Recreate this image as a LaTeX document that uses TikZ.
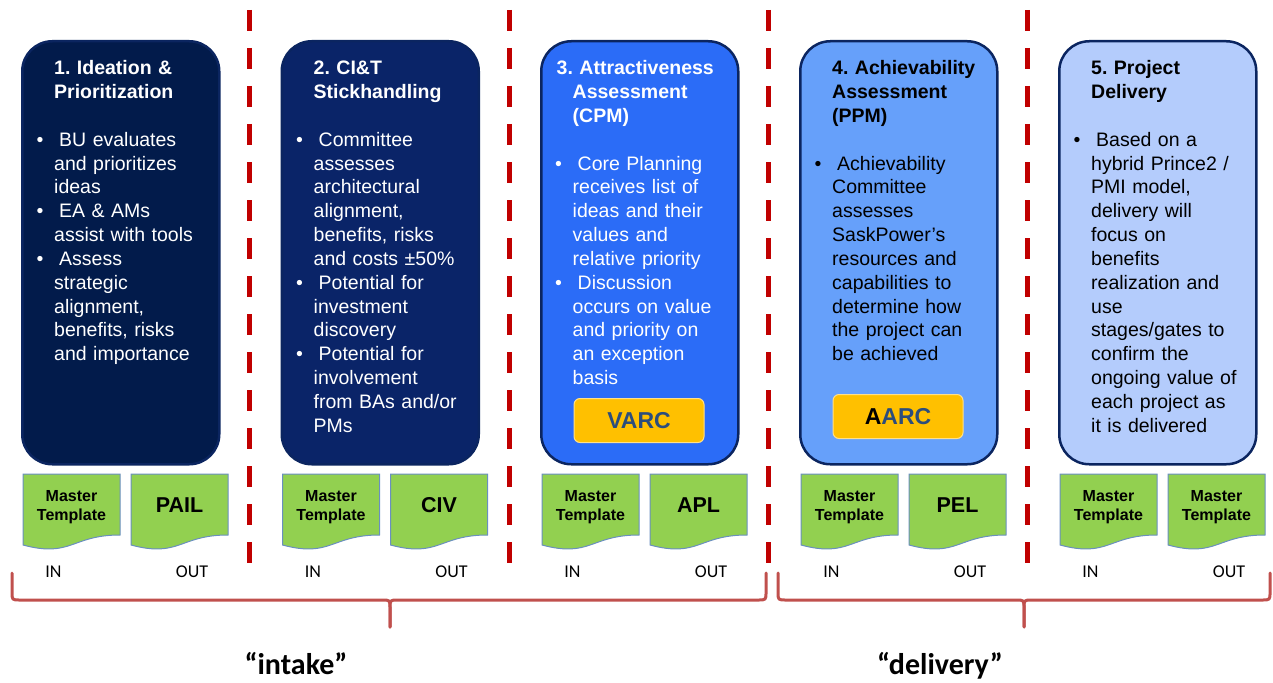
\documentclass[tikz,border=0pt]{standalone}
\usepackage{fontspec}
\setmainfont{Liberation Sans}
\newfontfamily\calibfont{Carlito}
\frenchspacing

\definecolor{stageA}{HTML}{021B4B}
\definecolor{stageB}{HTML}{0A2468}
\definecolor{stageC}{HTML}{2B6CF7}
\definecolor{stageD}{HTML}{66A0FA}
\definecolor{stageE}{HTML}{B4CCFC}
\definecolor{stageline}{HTML}{0B2560}
\definecolor{docgreen}{HTML}{92D050}
\definecolor{docline}{HTML}{6A8FC0}
\definecolor{sepred}{HTML}{C00000}
\definecolor{bracered}{HTML}{C0504D}
\definecolor{tagfill}{HTML}{FFC000}
\definecolor{tagline}{HTML}{FFE08A}
\definecolor{tagtext}{HTML}{2C4D7C}

% bullet hanging to the left of the text column
\newcommand\bul{\makebox[0pt][r]{\textbullet\hspace{10.7pt}}\hspace{5pt}}

\begin{document}
\begin{tikzpicture}[x=1pt,y=-1pt,
  stagebox/.style={draw=stageline, line width=2.5pt, rounded corners=30pt,
    anchor=north west, minimum width=197pt, minimum height=423pt, inner sep=0pt},
  stagetext/.style={anchor=base west, inner sep=0pt, text width=190pt, align=left,
    font=\fontsize{19.5}{23.8}\selectfont},
  docshape/.style={fill=docgreen, draw=docline, line width=1pt},
  doctext/.style={anchor=base, inner sep=0pt, text width=95pt, align=center,
    font=\bfseries\fontsize{16}{19.5}\selectfont},
  outtext/.style={anchor=base, inner sep=0pt, font=\bfseries\fontsize{21.5}{24}\selectfont},
  iolabel/.style={anchor=base, inner sep=0pt, font=\calibfont\fontsize{18}{20}\selectfont},
  tagbox/.style={fill=tagfill, draw=tagline, line width=1pt, rounded corners=6pt,
    minimum width=130pt, minimum height=44pt, inner sep=0pt,
    text=tagtext, font=\bfseries\fontsize{23}{26}\selectfont},
  sepline/.style={draw=sepred, line width=5pt, dash pattern=on 21pt off 17pt},
  brace/.style={draw=bracered, line width=3pt, line cap=round, line join=round},
  phase/.style={anchor=base, inner sep=0pt, font=\calibfont\bfseries\fontsize{30}{34}\selectfont}
]
\useasboundingbox (0,0) rectangle (1273,682);

% phase separators
\foreach \x in {249.5,509,768,1027.5}
  \draw[sepline] (\x,10) -- (\x,563);

% stage boxes
\node[stagebox, fill=stageA] (s1) at (21,40) {};
\node[stagebox, fill=stageB] (s2) at (280.5,40) {};
\node[stagebox, fill=stageC] (s3) at (540,40) {};
\node[stagebox, fill=stageD] (s4) at (799,40) {};
\node[stagebox, fill=stageE] (s5) at (1058,40) {};

% stage texts
\node[stagetext, text=white] (t1) at (54,75) {%
\textbf{1. Ideation \&}\\
\textbf{Prioritization}\\[23.8pt]
\bul BU evaluates\\
and prioritizes\\
ideas\\
\bul EA \& AMs\\
assist with tools\\
\bul Assess\\
strategic\\
alignment,\\
benefits, risks\\
and importance};

\node[stagetext, text=white] (t2) at (313.5,75) {%
\textbf{2. CI\&T}\\
\textbf{Stickhandling}\\[23.8pt]
\bul Committee\\
assesses\\
architectural\\
alignment,\\
benefits, risks\\
and costs ±50\%\\
\bul Potential for\\
investment\\
discovery\\
\bul Potential for\\
involvement\\
from BAs and/or\\
PMs};

\node[stagetext, text=white] (t3) at (572.5,75) {%
\hspace*{-16pt}\textbf{3. Attractiveness}\\
\textbf{Assessment}\\
\textbf{(CPM)}\\[23.8pt]
\bul Core Planning\\
receives list of\\
ideas and their\\
values and\\
relative priority\\
\bul Discussion\\
occurs on value\\
and priority on\\
an exception\\
basis};

\node[stagetext, text=black] (t4) at (832,75) {%
\textbf{4. Achievability}\\
\textbf{Assessment}\\
\textbf{(PPM)}\\[23.8pt]
\bul Achievability\\
Committee\\
assesses\\
SaskPower’s\\
resources and\\
capabilities to\\
determine how\\
the project can\\
be achieved};

\node[stagetext, text=black] (t5) at (1091,75) {%
\textbf{5. Project}\\
\textbf{Delivery}\\[23.8pt]
\bul Based on a\\
hybrid Prince2 /\\
PMI model,\\
delivery will\\
focus on\\
benefits\\
realization and\\
use\\
stages/gates to\\
confirm the\\
ongoing value of\\
each project as\\
it is delivered};

% review committees
\node[tagbox] (varc) at (639,420.5) {VARC};
\node[tagbox] (aarc) at (898,416.5) {{\color{black}A}ARC};

% input / output documents
\foreach \L/\n/\outname in {21/1/PAIL, 280.5/2/CIV, 540/3/APL, 799/4/PEL, 1058/5/{}}{
  \draw[docshape] (\L+2,474) -- (\L+99,474) -- (\L+99,535)
    .. controls (\L+50.5,535) and (\L+50.5,558) .. (\L+2,545) -- cycle;
  \draw[docshape] (\L+110,474) -- (\L+207,474) -- (\L+207,535)
    .. controls (\L+158.5,535) and (\L+158.5,558) .. (\L+110,545) -- cycle;
  \node[doctext] (in\n) at (\L+50.5,501) {Master\\Template};
  \ifnum\n=5
    \node[doctext] (out\n) at (\L+158.5,501) {Master\\Template};
  \else
    \node[outtext] (out\n) at (\L+158.5,512) {\outname};
  \fi
  \node[iolabel] (inl\n) at (\L+32.5,577) {IN};
  \node[iolabel] (outl\n) at (\L+171,577) {OUT};
}

% phase braces
\coordinate (ia) at (12,573);
\coordinate (ib) at (766,573);
\coordinate (ic) at (390,627);
\draw[brace] (ia) -- (12,592) .. controls (12,600) .. (20,600) -- (382,600)
  .. controls (390,600) .. (390,608) -- (ic);
\draw[brace] (ic) -- (390,608) .. controls (390,600) .. (398,600) -- (758,600)
  .. controls (766,600) .. (766,592) -- (ib);

\coordinate (da) at (778,573);
\coordinate (db) at (1270,573);
\coordinate (dc) at (1024,627);
\draw[brace] (da) -- (778,592) .. controls (778,600) .. (786,600) -- (1016,600)
  .. controls (1024,600) .. (1024,608) -- (dc);
\draw[brace] (dc) -- (1024,608) .. controls (1024,600) .. (1032,600) -- (1262,600)
  .. controls (1270,600) .. (1270,592) -- (db);

\node[phase] (intake) at (296,674) {“intake”};
\node[phase] (delivery) at (940,674) {“delivery”};
\end{tikzpicture}
\end{document}
